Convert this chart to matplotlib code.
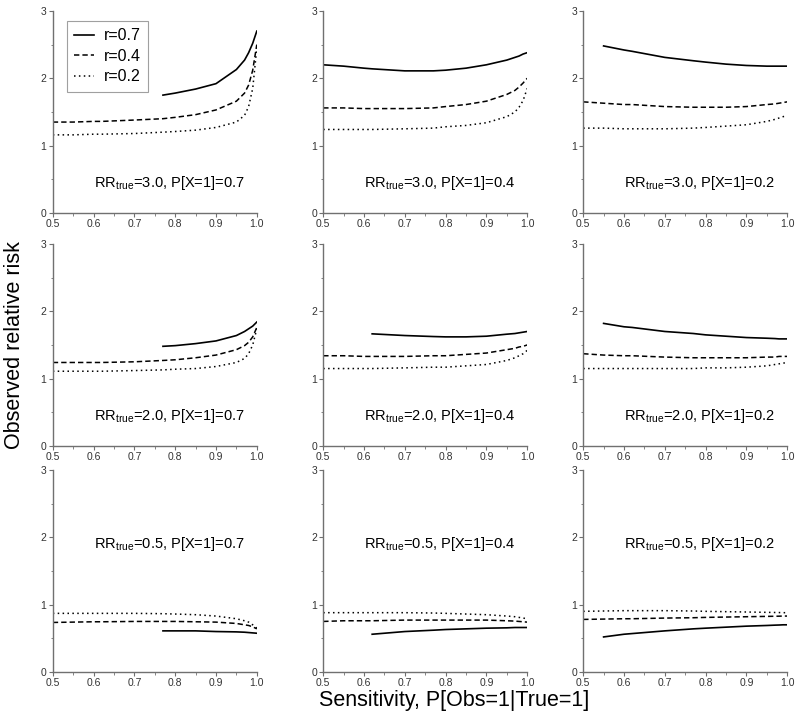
import numpy as np
import matplotlib
matplotlib.use('Agg')
import matplotlib.pyplot as plt
from matplotlib.ticker import MultipleLocator, FormatStrFormatter

plt.rcParams['font.family'] = ['Liberation Sans', 'DejaVu Sans']

nan = np.nan

sensitivity = [0.5, 0.55, 0.6, 0.62, 0.7, 0.77, 0.8, 0.85, 0.9, 0.95, 0.97, 0.98, 0.99, 1.0]

rr_true = [3.0, 2.0, 0.5]
p_exposed = [0.7, 0.4, 0.2]
r_labels = ['r=0.7', 'r=0.4', 'r=0.2']

# observed RR, rows = RR_true, cols = P[X=1], each with r=0.7, r=0.4, r=0.2
rr30_p07 = [
    [nan, nan, nan, nan, nan, 1.75, 1.78, 1.84, 1.92, 2.13, 2.27, 2.38, 2.52, 2.7],
    [1.35, 1.35, 1.36, 1.36, 1.38, 1.40, 1.42, 1.46, 1.53, 1.66, 1.78, 1.9, 2.12, 2.5],
    [1.16, 1.16, 1.17, 1.17, 1.18, 1.20, 1.21, 1.23, 1.27, 1.35, 1.45, 1.58, 1.85, 2.45],
]
rr30_p04 = [
    [2.2, 2.18, 2.15, 2.14, 2.11, 2.11, 2.12, 2.15, 2.2, 2.27, 2.31, 2.33, 2.36, 2.38],
    [1.56, 1.56, 1.55, 1.55, 1.55, 1.56, 1.58, 1.61, 1.66, 1.76, 1.82, 1.87, 1.93, 2.0],
    [1.24, 1.24, 1.24, 1.24, 1.25, 1.26, 1.28, 1.3, 1.34, 1.43, 1.5, 1.57, 1.67, 1.85],
]
rr30_p02 = [
    [nan, 2.48, 2.42, 2.40, 2.31, 2.26, 2.24, 2.21, 2.19, 2.18, 2.18, 2.18, 2.18, 2.18],
    [1.65, 1.63, 1.61, 1.61, 1.58, 1.57, 1.57, 1.57, 1.58, 1.61, 1.62, 1.63, 1.64, 1.65],
    [1.26, 1.26, 1.25, 1.25, 1.25, 1.26, 1.27, 1.29, 1.31, 1.36, 1.39, 1.41, 1.43, 1.45],
]
rr20_p07 = [
    [nan, nan, nan, nan, nan, 1.48, 1.49, 1.52, 1.56, 1.64, 1.70, 1.74, 1.78, 1.84],
    [1.24, 1.24, 1.24, 1.24, 1.25, 1.27, 1.28, 1.31, 1.35, 1.43, 1.49, 1.54, 1.62, 1.76],
    [1.11, 1.11, 1.11, 1.11, 1.12, 1.13, 1.14, 1.15, 1.18, 1.24, 1.30, 1.37, 1.50, 1.74],
]
rr20_p04 = [
    [nan, nan, nan, 1.665, 1.64, 1.625, 1.62, 1.62, 1.63, 1.66, 1.67, 1.68, 1.69, 1.70],
    [1.34, 1.34, 1.33, 1.33, 1.33, 1.34, 1.34, 1.36, 1.38, 1.43, 1.45, 1.47, 1.48, 1.5],
    [1.15, 1.15, 1.15, 1.15, 1.16, 1.17, 1.17, 1.19, 1.21, 1.27, 1.31, 1.34, 1.37, 1.42],
]
rr20_p02 = [
    [nan, 1.82, 1.77, 1.76, 1.70, 1.67, 1.65, 1.63, 1.61, 1.60, 1.595, 1.59, 1.59, 1.59],
    [1.37, 1.35, 1.34, 1.34, 1.32, 1.31, 1.31, 1.31, 1.31, 1.32, 1.32, 1.33, 1.33, 1.33],
    [1.15, 1.15, 1.15, 1.15, 1.15, 1.15, 1.16, 1.16, 1.17, 1.19, 1.21, 1.22, 1.23, 1.24],
]
rr05_p07 = [
    [nan, nan, nan, nan, nan, 0.61, 0.61, 0.61, 0.60, 0.595, 0.59, 0.585, 0.58, 0.575],
    [0.735, 0.74, 0.745, 0.745, 0.75, 0.75, 0.75, 0.745, 0.74, 0.72, 0.70, 0.69, 0.67, 0.64],
    [0.87, 0.87, 0.87, 0.87, 0.87, 0.865, 0.86, 0.85, 0.83, 0.79, 0.76, 0.74, 0.70, 0.65],
]
rr05_p04 = [
    [nan, nan, nan, 0.56, 0.6, 0.62, 0.63, 0.64, 0.65, 0.655, 0.66, 0.66, 0.66, 0.66],
    [0.75, 0.76, 0.76, 0.76, 0.77, 0.77, 0.77, 0.77, 0.77, 0.76, 0.755, 0.75, 0.745, 0.74],
    [0.88, 0.88, 0.88, 0.88, 0.88, 0.875, 0.87, 0.86, 0.85, 0.83, 0.82, 0.81, 0.8, 0.79],
]
rr05_p02 = [
    [nan, 0.52, 0.56, 0.57, 0.61, 0.64, 0.65, 0.665, 0.68, 0.69, 0.695, 0.697, 0.7, 0.7],
    [0.78, 0.785, 0.79, 0.79, 0.8, 0.805, 0.81, 0.815, 0.82, 0.825, 0.827, 0.828, 0.83, 0.83],
    [0.9, 0.905, 0.91, 0.91, 0.91, 0.905, 0.9, 0.895, 0.89, 0.885, 0.883, 0.882, 0.88, 0.88],
]

panels = [
    [rr30_p07, rr30_p04, rr30_p02],
    [rr20_p07, rr20_p04, rr20_p02],
    [rr05_p07, rr05_p04, rr05_p02],
]

line_styles = [
    dict(linestyle='-', linewidth=1.2),
    dict(linestyle=(0, (3.5, 2.0)), linewidth=1.1),
    dict(linestyle=(0, (1.0, 2.2)), linewidth=1.1),
]

fig = plt.figure(figsize=(8.0, 7.27), dpi=100)

lefts = [0.066, 0.404, 0.729]
bottoms = [0.707, 0.3865, 0.0757]
width, height = 0.255, 0.278
axis_grey = '#707070'

for i, rr in enumerate(rr_true):
    for j, p in enumerate(p_exposed):
        ax = fig.add_axes([lefts[j], bottoms[i], width, height])
        for k, series in enumerate(panels[i][j]):
            ax.plot(sensitivity, series, color='black', label=r_labels[k], **line_styles[k])

        ax.set_xlim(0.5, 1.0)
        ax.set_ylim(0, 3)
        ax.xaxis.set_major_locator(MultipleLocator(0.1))
        ax.xaxis.set_minor_locator(MultipleLocator(0.05))
        ax.yaxis.set_major_locator(MultipleLocator(1))
        ax.yaxis.set_minor_locator(MultipleLocator(0.5))
        ax.xaxis.set_major_formatter(FormatStrFormatter('%.1f'))
        for s in ['top', 'right']:
            ax.spines[s].set_visible(False)
        for s in ['left', 'bottom']:
            ax.spines[s].set_color(axis_grey)
            ax.spines[s].set_linewidth(1.0)
        ax.tick_params(which='major', length=3, width=0.8, color=axis_grey,
                       labelsize=7.5, labelcolor='#333333', pad=1.5)
        ax.tick_params(which='minor', length=1.8, width=0.6, color=axis_grey)

        label_y = 1.9 if rr < 1 else 0.45
        ax.text(0.785, label_y, r'RR$_{\mathregular{true}}$=%.1f, P[X=1]=%.1f' % (rr, p),
                ha='center', va='center', fontsize=10.5)

        if i == 0 and j == 0:
            leg = ax.legend(loc='upper left', bbox_to_anchor=(0.069, 0.95), fontsize=11.5,
                            frameon=True, fancybox=False, handlelength=1.25,
                            borderpad=0.45, labelspacing=0.35, handletextpad=0.6,
                            borderaxespad=0.0)
            leg.get_frame().set_edgecolor('#888888')
            leg.get_frame().set_linewidth(0.8)

fig.text(0.568, 0.037, 'Sensitivity, P[Obs=1|True=1]', ha='center', va='center', fontsize=15.5)
fig.text(0.018, 0.525, 'Observed relative risk', ha='center', va='center',
         rotation=90, fontsize=15.5)

fig.savefig('out.png', dpi=100)
